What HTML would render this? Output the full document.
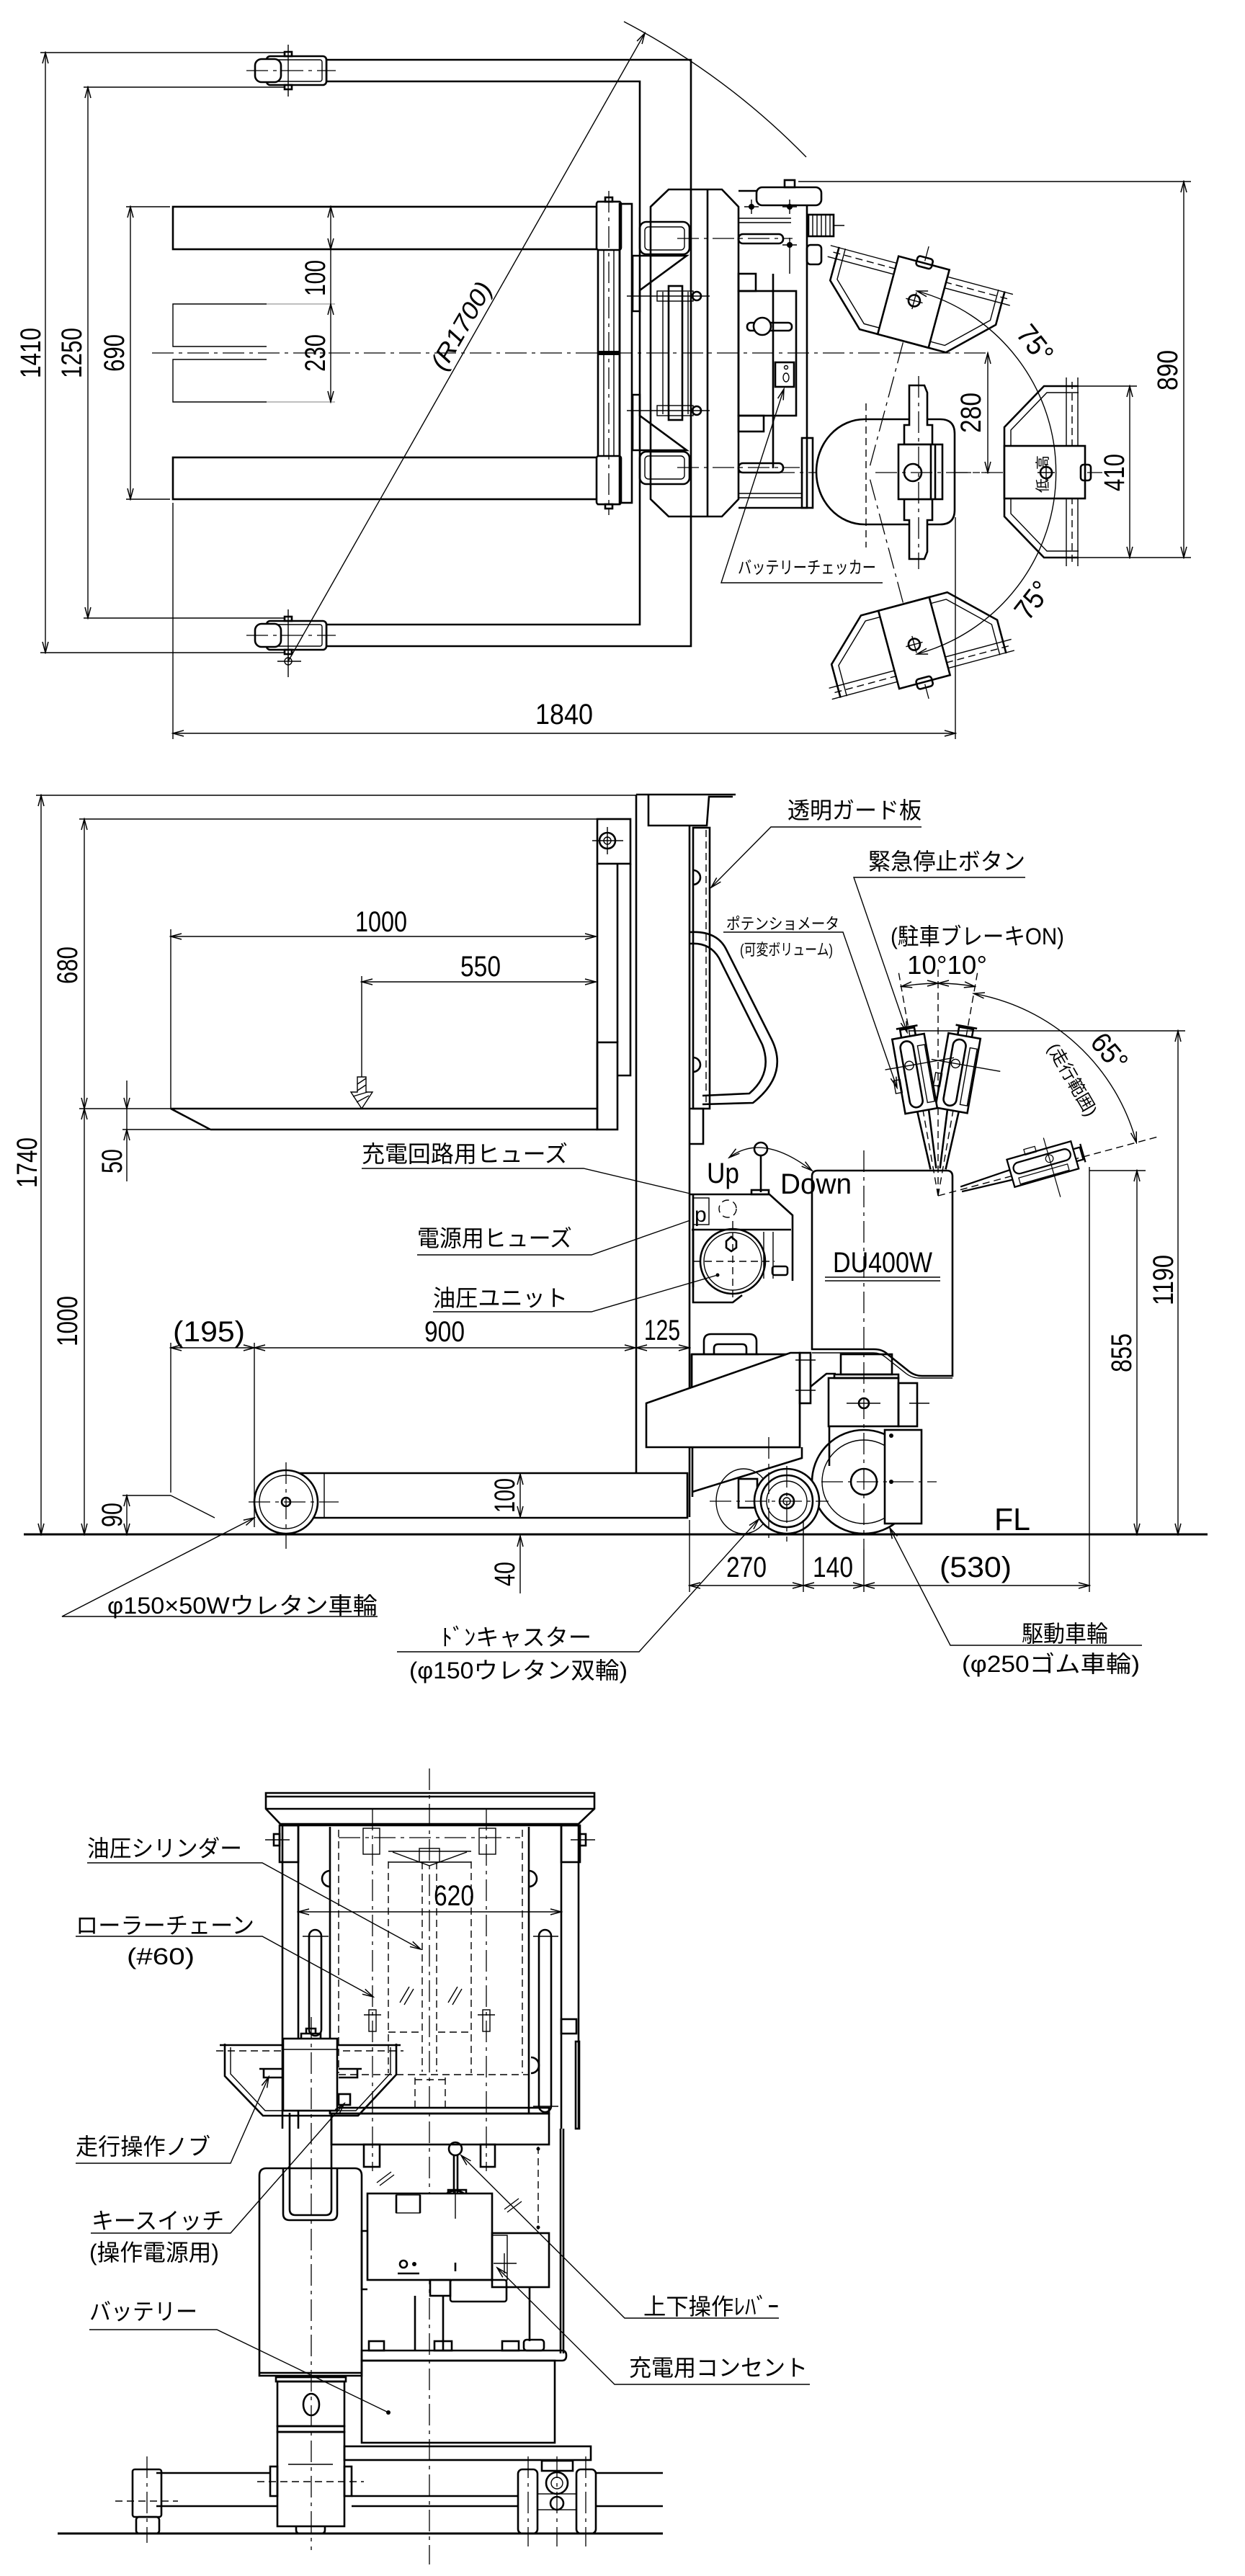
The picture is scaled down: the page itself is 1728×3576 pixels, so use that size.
<!DOCTYPE html>
<html><head><meta charset="utf-8">
<style>html,body{margin:0;padding:0;background:#fff}svg{display:block}</style>
</head><body>
<svg xmlns="http://www.w3.org/2000/svg" xmlns:xlink="http://www.w3.org/1999/xlink" width="1728" height="3576" viewBox="0 0 1728 3576">
<defs>
<marker id="a" viewBox="-17 -6 19 12" refX="0" refY="0" markerWidth="19" markerHeight="12" markerUnits="userSpaceOnUse" orient="auto-start-reverse"><path d="M-15,-4 L0,0 L-15,4" fill="none" stroke="#000" stroke-width="1.5"/></marker>
<style>
.m{stroke:#000;stroke-width:2.6;fill:none}
.w{stroke:#000;stroke-width:2.6;fill:#fff}
.t{stroke:#000;stroke-width:1.4;fill:none}
.c{stroke:#000;stroke-width:1.3;fill:none;stroke-dasharray:30 7 5 7}
.h{stroke:#000;stroke-width:1.4;fill:none;stroke-dasharray:10 6}
.d{stroke:#000;stroke-width:1.4;fill:none;marker-start:url(#a);marker-end:url(#a)}
.e{stroke:#000;stroke-width:1.4;fill:none;marker-end:url(#a)}
text{font-family:"Liberation Sans","Noto Sans CJK JP",sans-serif;fill:#000}
.n{font-size:40px}
.j{font-size:32px}
.s{font-size:23px}
</style>
<g id="hd">
 <path class="m" d="M1497,536 H1449 L1394,593 V717 L1449,774 H1497"/>
 <path class="t" d="M1497,545 H1453 L1403,597 V713 L1453,765 H1497"/>
 <line class="t" x1="1480" y1="524" x2="1480" y2="786"/>
 <line class="t" x1="1496" y1="524" x2="1496" y2="786"/>
 <line class="h" x1="1488" y1="530" x2="1488" y2="780"/>
 <line class="c" x1="1215" y1="656" x2="1530" y2="656"/>
 <rect class="w" x="1394" y="619" width="112" height="73"/>
 <rect class="m" x="1500" y="645" width="14" height="22" rx="4"/>
 <circle class="m" cx="1452" cy="656" r="8"/>
 <path class="t" d="M1440,656 H1464 M1452,644 V668"/>
</g>
<g id="tl">
 <path class="m" d="M-8,-120 L-4,-38 M8,-120 L4,-38"/>
 <rect class="w" x="-25" y="-225" width="45" height="105"/>
 <rect class="m" x="-16" y="-219" width="18" height="93" rx="9"/>
 <rect class="t" x="8" y="-210" width="10" height="80"/>
 <path class="m" d="M-12,-225 V-236 H8 V-225 M-17,-238 H13"/>
 <rect class="t" x="-33" y="-168" width="9" height="18"/>
 <line class="t" x1="-42" y1="-185" x2="55" y2="-185"/>
 <circle class="t" cx="-8" cy="-185" r="6"/>
</g>
</defs>

<!-- ================= TOP VIEW ================= -->
<path class="m" d="M453,83 H959 V897 H453 V867 H888 V113 H453 Z"/>
<g>
<rect class="w" x="370" y="78" width="83" height="40" rx="5"/>
<rect class="t" x="377" y="83" width="70" height="30" rx="3"/>
<rect class="w" x="354" y="82" width="36" height="32" rx="9"/>
<rect class="m" x="395" y="72" width="10" height="6"/>
<rect class="m" x="395" y="118" width="10" height="6"/>
<line class="t" x1="400" y1="62" x2="400" y2="134"/>
<line class="c" x1="342" y1="98" x2="466" y2="98"/>
</g>
<g transform="translate(0,784)">
<rect class="w" x="370" y="78" width="83" height="40" rx="5"/>
<rect class="t" x="377" y="83" width="70" height="30" rx="3"/>
<rect class="w" x="354" y="82" width="36" height="32" rx="9"/>
<rect class="m" x="395" y="72" width="10" height="6"/>
<rect class="m" x="395" y="118" width="10" height="6"/>
<line class="t" x1="400" y1="62" x2="400" y2="134"/>
<line class="c" x1="342" y1="98" x2="466" y2="98"/>
</g>
<circle class="t" cx="400" cy="918" r="5"/>
<path class="t" d="M400,905 V940 M385,918 H418"/>

<!-- dims left -->
<path class="t" d="M56,73 H396 M56,906 H396 M116,121 H396 M116,858 H396 M175,287 H236 M175,693 H236"/>
<line class="d" x1="63" y1="73" x2="63" y2="906"/>
<line class="d" x1="122" y1="121" x2="122" y2="858"/>
<line class="d" x1="181" y1="287" x2="181" y2="693"/>
<text class="n" text-anchor="middle" transform="translate(42,490) rotate(-90)" y="14" textLength="70" lengthAdjust="spacingAndGlyphs">1410</text>
<text class="n" text-anchor="middle" transform="translate(99,490) rotate(-90)" y="14" textLength="70" lengthAdjust="spacingAndGlyphs">1250</text>
<text class="n" text-anchor="middle" transform="translate(158,490) rotate(-90)" y="14" textLength="52" lengthAdjust="spacingAndGlyphs">690</text>

<!-- forks -->
<rect class="m" x="240" y="287" width="592" height="59"/>
<rect class="m" x="240" y="635" width="592" height="58"/>
<path class="t" d="M370,422 H240 V481 H370 M370,499 H240 V558 H370"/>
<path stroke="#999" stroke-width="1.2" fill="none" d="M370,422 H465 M370,558 H465"/>
<line class="d" x1="459" y1="287" x2="459" y2="346"/>
<line class="t" x1="459" y1="346" x2="459" y2="422"/>
<line class="d" x1="459" y1="422" x2="459" y2="558"/>
<text class="n" text-anchor="middle" transform="translate(437,386) rotate(-90)" y="14" textLength="50" lengthAdjust="spacingAndGlyphs">100</text>
<text class="n" text-anchor="middle" transform="translate(437,490) rotate(-90)" y="14" textLength="52" lengthAdjust="spacingAndGlyphs">230</text>
<line class="c" x1="211" y1="490" x2="1374" y2="490"/>

<!-- 1840 -->
<path class="t" d="M240,698 V1026 M1326,718 V1026"/>
<line class="d" x1="240" y1="1018" x2="1326" y2="1018"/>
<text class="n" x="783" y="1005" text-anchor="middle" textLength="80" lengthAdjust="spacingAndGlyphs">1840</text>

<!-- R1700 -->
<line class="e" x1="400" y1="918" x2="895" y2="46"/>
<path class="t" d="M866,30 A1003,1003 0 0 1 1119,218"/>
<text text-anchor="middle" font-size="34" font-style="italic" transform="translate(640,452) rotate(-60)" y="12" textLength="135" lengthAdjust="spacingAndGlyphs">(R1700)</text>

<!-- mast top view -->
<rect class="m" x="830" y="280" width="30" height="420"/>
<rect class="w" x="828" y="280" width="34" height="67" rx="3"/>
<rect class="w" x="828" y="633" width="34" height="67" rx="3"/>
<path class="t" d="M838,347 V633 M852,347 V633"/>
<rect class="m" x="840" y="274" width="10" height="6"/>
<rect class="m" x="840" y="700" width="10" height="6"/>
<rect x="829" y="487" width="32" height="6" fill="#000"/>
<line class="c" x1="845" y1="265" x2="845" y2="715"/>
<rect class="m" x="860" y="283" width="17" height="415"/>
<path class="m" d="M903,287 L928,263 H1002 L1025,287 V693 L1002,717 H928 L903,693 Z"/>
<line class="m" x1="982" y1="263" x2="982" y2="717"/>
<rect class="m" x="888" y="308" width="69" height="45" rx="9"/>
<rect class="t" x="895" y="315" width="55" height="32" rx="5"/>
<rect class="m" x="888" y="627" width="69" height="45" rx="9"/>
<rect class="t" x="895" y="633" width="55" height="32" rx="5"/>
<path class="m" d="M878,355 H953 L888,403 V432 H878 Z M878,625 H953 L888,577 V548 H878 Z"/>
<rect class="m" x="928" y="397" width="19" height="186"/>
<path class="t" d="M920,405 V575 M955,405 V575 M870,411 H985 M870,570 H985"/>
<rect class="t" x="912" y="404" width="50" height="14"/>
<rect class="t" x="912" y="563" width="50" height="14"/>
<circle class="m" cx="967" cy="411" r="6"/>
<circle class="m" cx="967" cy="570" r="6"/>
<path class="c" d="M940,331 H1100 M940,649 H1110"/>
<path class="m" d="M1025,265 H1120 V705 H1025"/>
<rect class="w" x="1050" y="260" width="90" height="25" rx="8"/>
<rect class="m" x="1089" y="250" width="14" height="10"/>
<circle cx="1043" cy="287" r="4" fill="#000"/>
<circle cx="1096" cy="287" r="4" fill="#000"/>
<circle cx="1096" cy="340" r="4" fill="#000"/>
<path class="t" d="M1033,287 H1053 M1043,277 V297 M1086,287 H1106 M1096,277 V297 M1086,340 H1106 M1096,330 V380"/>
<rect class="m" x="1122" y="298" width="35" height="30"/>
<path class="t" d="M1128,298V328 M1134,298V328 M1140,298V328 M1146,298V328 M1152,298V328 M1157,313 H1172"/>
<rect class="m" x="1120" y="340" width="20" height="27" rx="5"/>
<rect class="m" x="1025" y="325" width="62" height="13" rx="6"/>
<rect class="m" x="1025" y="643" width="62" height="13" rx="6"/>
<path class="t" d="M1025,303 H1098 M1025,309 H1098 M1025,685 H1113 M1025,691 H1113"/>
<rect class="m" x="1025" y="404" width="80" height="173"/>
<line class="m" x1="1073" y1="380" x2="1073" y2="650"/>
<rect class="m" x="1025" y="380" width="24" height="24"/>
<rect class="m" x="1037" y="448" width="62" height="11" rx="5"/>
<circle class="w" cx="1058" cy="453" r="12"/>
<rect class="m" x="1076" y="503" width="26" height="34"/>
<circle class="t" cx="1091" cy="510" r="2.5"/>
<ellipse class="t" cx="1091" cy="524" rx="4" ry="6"/>
<rect class="m" x="1025" y="577" width="35" height="22"/>
<rect class="m" x="1113" y="608" width="15" height="97"/>

<!-- handle top view -->
<line class="c" x1="1024" y1="656" x2="1374" y2="656"/>
<path class="w" d="M1200,582 H1305 Q1325,582 1325,602 V708 Q1325,728 1305,728 H1200 A67,73 0 0 1 1200,582 Z"/>
<line class="h" x1="1202" y1="560" x2="1202" y2="760"/>
<path class="w" d="M1262,535 H1283 L1287,545 V590 H1294 V617 H1255 V590 H1262 Z"/>
<path class="w" d="M1262,776 H1283 L1287,766 V722 H1294 V693 H1255 V722 H1262 Z"/>
<rect class="w" x="1247" y="617" width="61" height="76"/>
<path class="m" d="M1292,617 V693 M1298,617 V693"/>
<circle class="m" cx="1267" cy="656" r="12"/>
<line class="c" x1="1275" y1="522" x2="1275" y2="790"/>

<use xlink:href="#hd"/>
<use xlink:href="#hd" transform="rotate(-75 1205 656)"/>
<use xlink:href="#hd" transform="rotate(75 1205 656)"/>
<text font-size="20" text-anchor="middle" transform="translate(1447,642) rotate(-90)" y="7">高</text>
<text font-size="20" text-anchor="middle" transform="translate(1447,674) rotate(-90)" y="7">低</text>
<path class="d" d="M1272.6,404 A261,261 0 0 1 1272.6,908"/>
<text class="n" text-anchor="middle" transform="translate(1437,477) rotate(52)" y="14" textLength="55" lengthAdjust="spacingAndGlyphs">75°</text>
<text class="n" text-anchor="middle" transform="translate(1433,833) rotate(-52)" y="14" textLength="55" lengthAdjust="spacingAndGlyphs">75°</text>

<line class="d" x1="1371" y1="490" x2="1371" y2="656"/>
<text class="n" text-anchor="middle" transform="translate(1347,573) rotate(-90)" y="14" textLength="56" lengthAdjust="spacingAndGlyphs">280</text>
<path class="t" d="M1497,536 H1578 M1497,774 H1653 M1108,252 H1653"/>
<line class="d" x1="1568" y1="536" x2="1568" y2="774"/>
<text class="n" text-anchor="middle" transform="translate(1546,656) rotate(-90)" y="14" textLength="52" lengthAdjust="spacingAndGlyphs">410</text>
<line class="d" x1="1643" y1="252" x2="1643" y2="774"/>
<text class="n" text-anchor="middle" transform="translate(1620,514) rotate(-90)" y="14" textLength="56" lengthAdjust="spacingAndGlyphs">890</text>

<path class="e" d="M1225,809 H1001 L1088,540"/>
<text x="1024" y="796" font-size="24" textLength="192" lengthAdjust="spacingAndGlyphs">バッテリーチェッカー</text>

<!-- ================= SIDE VIEW ================= -->
<line x1="33" y1="2130" x2="1676" y2="2130" stroke="#000" stroke-width="3"/>
<line class="t" x1="50" y1="1104" x2="883" y2="1104"/>
<line class="d" x1="57" y1="1104" x2="57" y2="2130"/>
<path class="t" d="M110,1137 H829 M110,1539 H237 M170,1568 H292 M170,2076 H237"/>
<line class="d" x1="117" y1="1137" x2="117" y2="1539"/>
<line class="d" x1="117" y1="1539" x2="117" y2="2130"/>
<line class="e" x1="176" y1="1500" x2="176" y2="1539"/>
<line class="e" x1="176" y1="1640" x2="176" y2="1568"/>
<line class="t" x1="176" y1="1539" x2="176" y2="1568"/>
<line class="d" x1="176" y1="2076" x2="176" y2="2130"/>
<text class="n" text-anchor="middle" transform="translate(37,1614) rotate(-90)" y="14" textLength="70" lengthAdjust="spacingAndGlyphs">1740</text>
<text class="n" text-anchor="middle" transform="translate(93,1340) rotate(-90)" y="14" textLength="52" lengthAdjust="spacingAndGlyphs">680</text>
<text class="n" text-anchor="middle" transform="translate(93,1834) rotate(-90)" y="14" textLength="70" lengthAdjust="spacingAndGlyphs">1000</text>
<text class="n" text-anchor="middle" transform="translate(155,1612) rotate(-90)" y="14" textLength="34" lengthAdjust="spacingAndGlyphs">50</text>
<text class="n" text-anchor="middle" transform="translate(155,2103) rotate(-90)" y="14" textLength="34" lengthAdjust="spacingAndGlyphs">90</text>
<path class="t" d="M237,2076 L298,2107"/>

<!-- fork -->
<path class="m" d="M237,1539 H829 M292,1568 H829 M237,1539 L292,1568"/>
<line class="t" x1="237" y1="1290" x2="237" y2="1539"/>
<line class="d" x1="237" y1="1300" x2="827" y2="1300"/>
<text class="n" x="529" y="1293" text-anchor="middle" textLength="72" lengthAdjust="spacingAndGlyphs">1000</text>
<line class="t" x1="502" y1="1355" x2="502" y2="1495"/>
<line class="d" x1="502" y1="1363" x2="827" y2="1363"/>
<text class="n" x="667" y="1355" text-anchor="middle" textLength="56" lengthAdjust="spacingAndGlyphs">550</text>
<path class="t" fill="#fff" d="M496,1495 H508 V1516 H517 L502,1539 L487,1516 H496 Z"/>
<path class="t" d="M496,1505 L508,1497 M496,1514 L508,1506 M490,1522 L510,1516 M495,1530 L512,1521"/>
<!-- backrest -->
<rect class="m" x="829" y="1137" width="46" height="62"/>
<circle class="m" cx="843" cy="1167" r="11"/>
<circle class="t" cx="843" cy="1167" r="5"/>
<path class="t" d="M822,1167 H865 M843,1148 V1186"/>
<path class="m" d="M829,1199 V1568 M857,1199 V1447 M875,1199 V1493 H857"/>
<rect class="m" x="829" y="1447" width="28" height="121"/>

<!-- mast -->
<path class="m" d="M883,1103 V2046 M957,1146 V2106 M962,1658 V1787"/>
<path class="m" d="M883,1103 H1021 M1017,1106 H984 L981,1146 H900 V1103"/>
<rect class="m" x="962" y="1149" width="23" height="390"/>
<line class="h" x1="980" y1="1152" x2="980" y2="1536"/>
<path class="m" d="M962,1208 A10,10 0 0 1 962,1228 M962,1468 A10,10 0 0 1 962,1488"/>
<path class="m" d="M958,1294 Q995,1292 1008,1318 L1071,1443 Q1095,1492 1045,1531 L975,1533"/>
<path class="m" d="M958,1310 Q985,1308 998,1330 L1058,1450 Q1073,1490 1040,1518 L975,1521"/>
<path class="m" d="M958,1539 H976 V1588 H958"/>

<!-- hydraulic -->
<path class="m" d="M958,1658 H1068 L1100,1687 V1778"/>
<line class="m" x1="960" y1="1707" x2="1098" y2="1707"/>
<path class="m" d="M962,1707 V1808 H1017 L1030,1798"/>
<path class="t" d="M1060,1710 V1775 M1073,1710 V1775"/>
<circle class="m" cx="1017" cy="1751" r="45"/>
<circle class="t" cx="1017" cy="1751" r="40"/>
<path class="h" d="M962,1751 H1075 M1017,1695 V1805"/>
<path class="m" d="M1008,1723 L1015,1717 L1022,1723 V1732 L1015,1737 L1008,1732 Z"/>
<circle cx="996" cy="1770" r="2.5" fill="#000"/>
<rect class="m" x="1072" y="1758" width="21" height="12" rx="3"/>
<rect class="t" x="962" y="1663" width="22" height="37"/>
<text x="964" y="1696" font-size="30">p</text>
<circle class="h" cx="1010" cy="1678" r="12"/>
<line class="m" x1="1056" y1="1604" x2="1056" y2="1655"/>
<circle class="m" cx="1056" cy="1595" r="9"/>
<rect class="m" x="1043" y="1652" width="24" height="6"/>

<!-- body -->
<path class="w" d="M1127,1633 Q1127,1625 1135,1625 H1314 Q1322,1625 1322,1633 V1910 H1280 Q1270,1910 1262,1904 L1232,1880 Q1225,1873 1213,1873 H1127 Z"/>
<path class="t" d="M1127,1878 H1212 Q1222,1878 1229,1884 L1258,1907 Q1266,1913 1276,1913 H1322"/>
<text x="1225" y="1766" text-anchor="middle" font-size="40" textLength="138" lengthAdjust="spacingAndGlyphs">DU400W</text>
<path class="t" d="M1145,1773 H1305 M1145,1778 H1305"/>
<line class="c" x1="1199" y1="1597" x2="1199" y2="2150"/>
<path class="d" d="M1012,1607 Q1058,1572 1127,1625"/>
<text x="981" y="1642" font-size="40" textLength="45" lengthAdjust="spacingAndGlyphs">Up</text>
<text x="1083" y="1657" font-size="40" textLength="99" lengthAdjust="spacingAndGlyphs">Down</text>

<!-- tillers -->
<path class="h" d="M1302,1660 L1246.4,1344.9 M1302,1660 L1302,1340 M1302,1660 L1357.6,1344.9 M1302,1660 L1611,1577"/>
<use xlink:href="#tl" transform="translate(1302,1660) rotate(10)"/>
<use xlink:href="#tl" transform="translate(1302,1660) rotate(-10)"/>
<use xlink:href="#tl" transform="translate(1302,1660) rotate(74) scale(0.88)"/>
<path class="d" d="M1250.8,1369.5 A295,295 0 0 1 1302,1365"/>
<path class="d" d="M1302,1365 A295,295 0 0 1 1353.2,1369.5"/>
<path class="d" d="M1351.5,1379.3 A285,285 0 0 1 1577.3,1586.2"/>
<text x="1259" y="1352" font-size="36" textLength="111" lengthAdjust="spacingAndGlyphs">10°10°</text>
<text class="n" text-anchor="middle" transform="translate(1540,1460) rotate(50)" y="14" textLength="55" lengthAdjust="spacingAndGlyphs">65°</text>
<text font-size="24" text-anchor="middle" transform="translate(1488,1499) rotate(60)" y="8" textLength="112" lengthAdjust="spacingAndGlyphs">(走行範囲)</text>

<!-- chassis side -->
<path class="m" d="M977,1880 V1862 Q977,1852 987,1852 H1040 Q1050,1852 1050,1862 V1880 M991,1880 V1872 Q991,1866 997,1866 H1030 Q1036,1866 1036,1872 V1880"/>
<path class="m" d="M960,1880 H1053 M960,1880 V1948"/>
<rect class="m" x="960" y="1880" width="150" height="129"/>
<path class="w" d="M897,1948 L1097,1878 H1110 V2009 H897 Z"/>
<rect class="m" x="1110" y="1878" width="15" height="70"/>
<path class="m" d="M1125,1925 L1147,1907 H1160"/>
<path class="t" d="M1104,1888 H1132 M1104,1930 H1132"/>
<path class="m" d="M961,2009 V2078 M961,2071 L1113,2024 V2009"/>
<rect class="m" x="1167" y="1880" width="71" height="28"/>
<rect class="m" x="1158" y="1908" width="89" height="5"/>
<rect class="m" x="1150" y="1913" width="97" height="67"/>
<rect class="m" x="1247" y="1920" width="26" height="60"/>
<circle class="m" cx="1199" cy="1948" r="7"/>
<path class="t" d="M1175,1948 H1222 M1262,1948 H1290"/>
<circle class="m" cx="1199" cy="2057" r="72"/>
<circle class="t" cx="1199" cy="2057" r="58"/>
<circle class="m" cx="1199" cy="2057" r="18"/>
<line class="m" x1="1151" y1="1980" x2="1151" y2="2035"/>
<rect class="w" x="1228" y="1985" width="51" height="130"/>
<circle cx="1237" cy="1993" r="3" fill="#000"/>
<circle cx="1237" cy="2057" r="3" fill="#000"/>
<line class="c" x1="1140" y1="2057" x2="1300" y2="2057"/>
<ellipse class="t" cx="1032" cy="2084" rx="38" ry="45"/>
<rect class="m" x="1025" y="2053" width="26" height="40"/>
<circle class="w" cx="1092" cy="2084" r="45"/>
<circle class="m" cx="1092" cy="2084" r="36"/>
<circle class="t" cx="1092" cy="2084" r="28"/>
<circle class="m" cx="1092" cy="2084" r="10"/>
<circle class="t" cx="1092" cy="2084" r="5"/>
<path class="c" d="M985,2084 H1150 M1092,2035 V2140 M1067,1995 V2140"/>

<!-- front wheel & leg -->
<path class="m" d="M397,2045 H954 V2107 H397"/>
<line class="t" x1="450" y1="2045" x2="450" y2="2107"/>
<circle class="w" cx="397" cy="2085" r="44"/>
<circle class="t" cx="397" cy="2085" r="37"/>
<circle class="m" cx="397" cy="2085" r="6"/>
<path class="c" d="M345,2085 H470 M397,2030 V2150"/>

<!-- bottom dims side -->
<path class="t" d="M237,1864 V2072 M353,1864 V2120"/>
<line class="d" x1="237" y1="1871" x2="353" y2="1871"/>
<line class="d" x1="353" y1="1871" x2="882" y2="1871"/>
<line class="d" x1="883" y1="1871" x2="957" y2="1871"/>
<text class="n" x="290" y="1862" text-anchor="middle" textLength="100" lengthAdjust="spacingAndGlyphs">(195)</text>
<text class="n" x="617" y="1862" text-anchor="middle" textLength="56" lengthAdjust="spacingAndGlyphs">900</text>
<text class="n" x="919" y="1860" text-anchor="middle" textLength="50" lengthAdjust="spacingAndGlyphs">125</text>
<line class="d" x1="722" y1="2046" x2="722" y2="2106"/>
<line class="e" x1="722" y1="2212" x2="722" y2="2132"/>
<text class="n" text-anchor="middle" transform="translate(700,2076) rotate(-90)" y="14" textLength="48" lengthAdjust="spacingAndGlyphs">100</text>
<text class="n" text-anchor="middle" transform="translate(700,2185) rotate(-90)" y="14" textLength="34" lengthAdjust="spacingAndGlyphs">40</text>
<path class="t" d="M957,2110 V2210 M1115,2110 V2210 M1199,2150 V2210 M1512,1620 V2210 M1512,1625 H1590 M1262,1431 H1645"/>
<line class="d" x1="957" y1="2201" x2="1115" y2="2201"/>
<line class="d" x1="1115" y1="2201" x2="1199" y2="2201"/>
<line class="d" x1="1199" y1="2201" x2="1512" y2="2201"/>
<text class="n" x="1036" y="2189" text-anchor="middle" textLength="56" lengthAdjust="spacingAndGlyphs">270</text>
<text class="n" x="1156" y="2189" text-anchor="middle" textLength="56" lengthAdjust="spacingAndGlyphs">140</text>
<text class="n" x="1354" y="2189" text-anchor="middle" textLength="100" lengthAdjust="spacingAndGlyphs">(530)</text>
<text x="1380" y="2124" font-size="44" textLength="50" lengthAdjust="spacingAndGlyphs">FL</text>
<line class="d" x1="1578" y1="1625" x2="1578" y2="2130"/>
<line class="d" x1="1635" y1="1431" x2="1635" y2="2130"/>
<text class="n" text-anchor="middle" transform="translate(1614,1777) rotate(-90)" y="14" textLength="70" lengthAdjust="spacingAndGlyphs">1190</text>
<text class="n" text-anchor="middle" transform="translate(1556,1878) rotate(-90)" y="14" textLength="54" lengthAdjust="spacingAndGlyphs">855</text>

<!-- side labels -->
<path class="e" d="M1279,1148 H1070 L987,1232"/>
<text class="j" x="1093" y="1136" textLength="186" lengthAdjust="spacingAndGlyphs">透明ガード板</text>
<path class="e" d="M1423,1218 H1185 L1259,1433"/>
<text class="j" x="1205" y="1207" textLength="218" lengthAdjust="spacingAndGlyphs">緊急停止ボタン</text>
<path class="e" d="M1004,1294 H1170 L1245,1510"/>
<text x="1008" y="1290" font-size="22" textLength="157" lengthAdjust="spacingAndGlyphs">ポテンショメータ</text>
<text x="1027" y="1326" font-size="22" textLength="129" lengthAdjust="spacingAndGlyphs">(可変ボリューム)</text>
<text class="j" x="1236" y="1311" textLength="241" lengthAdjust="spacingAndGlyphs">(駐車ブレーキON)</text>
<path class="t" d="M502,1622 H810 L958,1657"/>
<text class="j" x="502" y="1613" textLength="286" lengthAdjust="spacingAndGlyphs">充電回路用ヒューズ</text>
<path class="t" d="M579,1742 H821 L958,1694"/>
<text class="j" x="579" y="1730" textLength="215" lengthAdjust="spacingAndGlyphs">電源用ヒューズ</text>
<path class="t" d="M601,1821 H821 L996,1770"/>
<text class="j" x="601" y="1813" textLength="187" lengthAdjust="spacingAndGlyphs">油圧ユニット</text>
<path class="e" d="M524,2244 H86 L353,2107"/>
<text class="j" x="149" y="2240" textLength="375" lengthAdjust="spacingAndGlyphs">φ150×50Wウレタン車輪</text>
<path class="e" d="M551,2293 H887 L1053,2109"/>
<text class="j" x="612" y="2284" textLength="209" lengthAdjust="spacingAndGlyphs">ﾄﾞﾝキャスター</text>
<text class="j" x="568" y="2330" textLength="303" lengthAdjust="spacingAndGlyphs">(φ150ウレタン双輪)</text>
<path class="e" d="M1585,2284 H1319 L1235,2121"/>
<text class="j" x="1418" y="2279" textLength="120" lengthAdjust="spacingAndGlyphs">駆動車輪</text>
<text class="j" x="1335" y="2321" textLength="247" lengthAdjust="spacingAndGlyphs">(φ250ゴム車輪)</text>

<!-- ================= FRONT VIEW ================= -->
<line class="c" x1="596" y1="2455" x2="596" y2="3560"/>
<path class="m" d="M369,2489 H825 V2511 L803,2532 H389 L369,2511 Z M369,2494 H825 M369,2511 H825"/>
<path class="m" d="M392,2534 V2955 M414,2534 V2955 M779,2534 V2955 M803,2534 V2955 M392,2534 H803"/>
<rect class="m" x="388" y="2534" width="26" height="51"/>
<rect class="m" x="779" y="2534" width="26" height="51"/>
<rect class="m" x="380" y="2546" width="8" height="16"/>
<rect class="m" x="805" y="2546" width="8" height="16"/>
<path class="t" d="M368,2554 H402 M792,2554 H826"/>
<path class="m" d="M458,2536 V2934 M734,2536 V2934"/>
<path class="h" d="M470,2540 V2878 M725,2540 V2878 M470,2880 H734 M539,2584 V2878 M654,2584 V2878 M539,2821 H585 M608,2821 H654 M586,2585 V2876 M606,2585 V2876 M576,2884 V2930 M618,2884 V2930 M576,2887 H618"/>
<path class="t" d="M539,2570 H654 M539,2585 H654 M545,2571 L596,2590 L648,2571"/>
<rect class="t" x="582" y="2566" width="28" height="19"/>
<line class="c" x1="470" y1="2551" x2="722" y2="2551"/>
<rect class="t" x="504" y="2538" width="23" height="36"/>
<rect class="t" x="665" y="2538" width="23" height="36"/>
<path class="c" d="M517,2511 V3014 M675,2511 V3014"/>
<rect class="t" x="512" y="2790" width="10" height="30"/>
<rect class="t" x="670" y="2790" width="10" height="30"/>
<path class="t" d="M505,2797 H529 M663,2797 H687"/>
<path class="t" d="M555,2780 L568,2758 M561,2783 L574,2761 M622,2780 L635,2758 M628,2783 L641,2761 M523,3030 L543,3015 M527,3034 L547,3019 M700,3067 L720,3052 M704,3071 L724,3056"/>
<rect class="m" x="429" y="2679" width="17" height="147" rx="8.5"/>
<rect class="m" x="748" y="2679" width="17" height="253" rx="8.5"/>
<path class="t" d="M420,2688 H456 M740,2688 H775 M740,2924 H775"/>
<path class="m" d="M458,2597 A11,11 0 0 0 458,2619 M734,2597 A11,11 0 0 1 734,2619 M737,2856 A11,11 0 0 1 737,2878"/>
<line class="d" x1="414" y1="2654" x2="779" y2="2654"/>
<text class="n" x="630" y="2645" text-anchor="middle" textLength="56" lengthAdjust="spacingAndGlyphs">620</text>
<rect class="m" x="458" y="2926" width="304" height="8"/>
<rect class="m" x="460" y="2934" width="302" height="43"/>
<rect class="m" x="505" y="2977" width="22" height="31"/>
<rect class="m" x="667" y="2977" width="20" height="31"/>
<circle class="m" cx="632" cy="2983" r="9"/>
<path class="m" d="M630,2992 V3080 M635,2992 V3070"/>
<path class="m" d="M620,3045 Q632,3037 644,3045"/>
<path class="m" d="M778,2955 V3267 M782,2955 V3267"/>
<path class="h" d="M747,2980 V3095"/>
<circle cx="747" cy="2983" r="2.5" fill="#000"/>
<circle cx="747" cy="3092" r="2.5" fill="#000"/>
<rect class="m" x="779" y="2803" width="21" height="20"/>
<rect class="m" x="799" y="2834" width="5" height="121"/>

<!-- tiller front -->
<path class="m" d="M305,2839 H393 M468,2839 H556"/>
<path class="m" d="M312,2837 V2882 L365,2937 H497 L550,2880 V2837"/>
<path class="t" d="M320,2842 V2879 L368,2930 H494 L542,2878 V2842"/>
<path class="h" d="M300,2847 H560"/>
<path class="m" d="M360,2872 H392 M366,2872 V2884 H392 M470,2872 H502 M496,2872 V2884 H470"/>
<rect class="w" x="393" y="2830" width="75" height="100"/>
<line class="t" x1="393" y1="2845" x2="468" y2="2845"/>
<path class="m" d="M418,2830 V2823 H445 V2830 M425,2823 V2816 H438 V2823"/>
<rect class="m" x="470" y="2907" width="16" height="15"/>
<path class="m" d="M402,2933 V3010 M460,2933 V3010"/>
<path class="w" d="M360,3298 V3020 Q360,3010 370,3010 H492 Q502,3010 502,3020 V3298 Z"/>
<path class="m" d="M393,3010 V3073 Q393,3082 402,3082 H459 Q468,3082 468,3073 V3010 M402,3010 V3067 Q402,3075 410,3075 H452 Q460,3075 460,3067 V3010"/>
<line class="m" x1="360" y1="3294" x2="502" y2="3294"/>
<rect class="m" x="383" y="3300" width="97" height="6"/>
<rect class="m" x="385" y="3306" width="93" height="62"/>
<ellipse class="m" cx="432" cy="3338" rx="11" ry="15"/>
<rect class="m" x="385" y="3368" width="93" height="8"/>
<rect class="m" x="385" y="3376" width="93" height="131"/>
<rect class="m" x="375" y="3424" width="10" height="41"/>
<rect class="m" x="478" y="3424" width="10" height="41"/>
<path class="m" d="M411,3507 V3512 Q411,3517 416,3517 H446 Q451,3517 451,3512 V3507"/>
<line class="c" x1="432" y1="2800" x2="432" y2="3540"/>
<path class="h" d="M357,3445 H505"/>
<line class="t" x1="400" y1="3421" x2="462" y2="3421"/>

<!-- battery / hyd front -->
<path class="m" d="M502,3263 H780 Q786,3263 786,3270 Q786,3277 780,3277 H502 Z"/>
<rect class="m" x="502" y="3277" width="268" height="114"/>
<rect class="m" x="512" y="3250" width="21" height="13"/>
<rect class="m" x="603" y="3250" width="24" height="13"/>
<rect class="m" x="697" y="3250" width="23" height="13"/>
<rect class="m" x="727" y="3248" width="28" height="15" rx="4"/>
<path class="m" d="M576,3187 V3263 M615,3187 V3263 M735,3175 V3250"/>
<path class="m" d="M510,3097 H502 V3178 H510"/>
<rect class="w" x="510" y="3045" width="173" height="120"/>
<rect class="t" x="550" y="3047" width="33" height="25"/>
<path class="m" d="M550,3047 V3072 M583,3047 V3072"/>
<circle class="m" cx="560" cy="3143" r="5"/>
<circle cx="575" cy="3143" r="3" fill="#000"/>
<path class="m" d="M552,3156 H582 M632,3141 V3153"/>
<path class="m" d="M622,3045 V3040 H647 V3045"/>
<line class="t" x1="632" y1="3040" x2="632" y2="3080"/>
<rect class="m" x="597" y="3165" width="28" height="22"/>
<rect class="m" x="625" y="3165" width="78" height="30" rx="3"/>
<rect class="m" x="683" y="3100" width="79" height="75"/>
<rect class="t" x="683" y="3103" width="21" height="62"/>
<path class="t" d="M685,3142 H717 M700,3128 V3156"/>
<rect class="m" x="478" y="3396" width="342" height="19"/>
<path class="m" d="M217,3433 H375 M217,3479 H385 M488,3465 H719 M488,3479 H719 M827,3433 H920 M827,3479 H920"/>
<rect class="m" x="184" y="3428" width="40" height="66" rx="3"/>
<rect class="m" x="189" y="3494" width="32" height="23" rx="4"/>
<line class="c" x1="204" y1="3410" x2="204" y2="3530"/>
<path class="h" d="M160,3472 H247"/>
<rect class="m" x="719" y="3428" width="27" height="89" rx="6"/>
<rect class="m" x="800" y="3428" width="27" height="89" rx="6"/>
<rect class="m" x="752" y="3416" width="43" height="14"/>
<circle class="m" cx="773" cy="3447" r="15"/>
<circle class="t" cx="773" cy="3447" r="8"/>
<rect class="t" x="746" y="3462" width="54" height="22"/>
<circle class="m" cx="773" cy="3475" r="9"/>
<path class="c" d="M733,3410 V3535 M773,3410 V3535 M813,3410 V3535"/>
<line x1="80" y1="3517" x2="920" y2="3517" stroke="#000" stroke-width="3"/>

<!-- front labels -->
<path class="e" d="M121,2586 H364 L584,2706"/>
<text class="j" x="121" y="2577" textLength="215" lengthAdjust="spacingAndGlyphs">油圧シリンダー</text>
<path class="e" d="M105,2688 H364 L518,2772"/>
<text class="j" x="105" y="2684" textLength="248" lengthAdjust="spacingAndGlyphs">ローラーチェーン</text>
<text class="j" x="176" y="2727" textLength="94" lengthAdjust="spacingAndGlyphs">(#60)</text>
<path class="e" d="M105,3003 H320 L373,2883"/>
<text class="j" x="105" y="2991" textLength="187" lengthAdjust="spacingAndGlyphs">走行操作ノブ</text>
<path class="e" d="M126,3100 H320 L478,2920"/>
<text class="j" x="127" y="3094" textLength="184" lengthAdjust="spacingAndGlyphs">キースイッチ</text>
<text class="j" x="124" y="3138" textLength="180" lengthAdjust="spacingAndGlyphs">(操作電源用)</text>
<path class="t" d="M124,3234 H301 L539,3349"/>
<circle cx="539" cy="3349" r="3" fill="#000"/>
<text class="j" x="124" y="3220" textLength="150" lengthAdjust="spacingAndGlyphs">バッテリー</text>
<path class="e" d="M1081,3218 H867 L640,2992"/>
<text class="j" x="893" y="3213" textLength="188" lengthAdjust="spacingAndGlyphs">上下操作ﾚﾊﾞｰ</text>
<path class="e" d="M1124,3310 H853 L690,3148"/>
<text class="j" x="873" y="3298" textLength="248" lengthAdjust="spacingAndGlyphs">充電用コンセント</text>
</svg>
</body></html>
